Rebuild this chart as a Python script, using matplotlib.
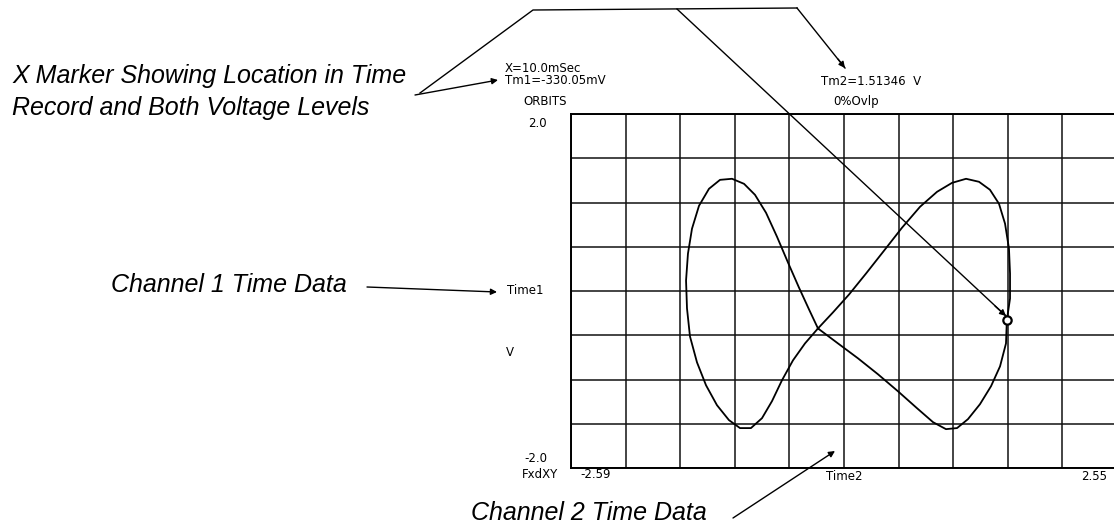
import matplotlib
matplotlib.use('Agg')
import matplotlib.pyplot as plt
from matplotlib.lines import Line2D
import numpy as np

# screen scale of the analyzer display
x_range = [-2.59, 2.55]
y_range = [-2.0, 2.0]
n_xdiv = 10
n_ydiv = 8

# orbit trace: Time2 (x) against Time1 (y), volts
orbit_x = [-0.265, -0.124, 0.027, 0.187, 0.357, 0.526, 0.696, 0.856, 0.997, 1.129,
           1.251, 1.354, 1.439, 1.496, 1.533, 1.543, 1.543, 1.513, 1.505, 1.449,
           1.364, 1.260, 1.147, 1.044, 0.940, 0.818, 0.667, 0.488, 0.300, 0.112,
           -0.077, -0.265,
           -0.387, -0.500, -0.604, -0.698, -0.792, -0.896, -0.999, -1.103, -1.216, -1.319,
           -1.404, -1.470, -1.498, -1.507, -1.489, -1.451, -1.385, -1.291, -1.187, -1.074,
           -0.961, -0.858, -0.754, -0.651, -0.547, -0.444, -0.349, -0.265]
orbit_y = [-0.423, -0.242, -0.040, 0.197, 0.456, 0.715, 0.952, 1.121, 1.222, 1.268,
           1.234, 1.144, 0.986, 0.761, 0.479, 0.197, -0.085, -0.330, -0.592, -0.851,
           -1.076, -1.279, -1.448, -1.549, -1.561, -1.482, -1.324, -1.133, -0.941, -0.761,
           -0.592, -0.423,
           -0.592, -0.783, -1.009, -1.245, -1.437, -1.549, -1.549, -1.459, -1.290, -1.065,
           -0.806, -0.513, -0.197, 0.118, 0.422, 0.704, 0.963, 1.155, 1.256, 1.268,
           1.211, 1.087, 0.884, 0.614, 0.321, 0.039, -0.209, -0.423]

# X marker readout
marker_x = 1.51346
marker_y = -0.33005

W, H = 1114, 529


def fx(px):
    return px / W


def fy(py):
    # pixel rows counted from the top
    return 1 - py / H


def fp(px, py):
    return (px, H - py)


fig = plt.figure(figsize=(W / 100, H / 100), dpi=100)
fig.patch.set_facecolor('white')

ax = fig.add_axes([571 / W, 61 / H, 546 / W, 354 / H])
ax.plot(orbit_x, orbit_y, color='k', lw=1.3)
ax.plot([marker_x], [marker_y], 'o', mfc='white', mec='k', ms=6, mew=1.6)
ax.set_xlim(x_range)
ax.set_ylim(y_range)
ax.set_xticks(np.linspace(x_range[0], x_range[1], n_xdiv + 1))
ax.set_yticks(np.linspace(y_range[0], y_range[1], n_ydiv + 1))
ax.tick_params(length=0, labelbottom=False, labelleft=False)
ax.grid(True, color='#111111', lw=1.1)
for s in ax.spines.values():
    s.set_linewidth(1.4)

# screen readouts (plotter font)
mono = dict(family='DejaVu Sans', size=8.5, color='k')
fig.text(fx(505), fy(72), "X=10.0mSec", va='baseline', **mono)
fig.text(fx(505), fy(84), "Tm1=-330.05mV", va='baseline', **mono)
fig.text(fx(523), fy(105), "ORBITS", va='baseline', **mono)
fig.text(fx(821), fy(85), "Tm2=1.51346  V", va='baseline', **mono)
fig.text(fx(833), fy(105), "0%Ovlp", va='baseline', **mono)
fig.text(fx(547), fy(127), "%.1f" % y_range[1], ha='right', va='baseline', **mono)
fig.text(fx(547), fy(462), "%.1f" % y_range[0], ha='right', va='baseline', **mono)
fig.text(fx(507), fy(290), "Time1", va='center', **mono)
fig.text(fx(506), fy(352), "V", va='center', **mono)
fig.text(fx(558), fy(478), "FxdXY", ha='right', va='baseline', **mono)
fig.text(fx(580), fy(478), "%.2f" % x_range[0], va='baseline', **mono)
fig.text(fx(826), fy(480), "Time2", va='baseline', **mono)
fig.text(fx(1107), fy(480), "%.2f" % x_range[1], ha='right', va='baseline', **mono)

# callouts
ital = dict(family='Liberation Sans', style='italic', size=18, color='k')
fig.text(fx(12), fy(83), "X Marker Showing Location in Time", va='baseline', **ital)
fig.text(fx(12), fy(115), "Record and Both Voltage Levels", va='baseline', **ital)
fig.text(fx(347), fy(285), "Channel 1 Time Data", ha='right', va='center', **ital)
fig.text(fx(707), fy(513), "Channel 2 Time Data", ha='right', va='center', **ital)

arrow = dict(arrowstyle='-|>', color='k', lw=1.0, mutation_scale=9,
             shrinkA=0, shrinkB=0)
fig.add_artist(Line2D([fx(420), fx(533), fx(797)], [fy(93), fy(10), fy(8)],
                      color='k', lw=1.0))
fig.add_artist(Line2D([fx(677), fx(1006)], [fy(9), fy(316)], color='k', lw=1.0))
fig.add_artist(Line2D([fx(797), fx(845)], [fy(8), fy(68)], color='k', lw=1.0))
ax.annotate("", xy=fp(1006, 316), xytext=fp(995, 306), xycoords='figure pixels',
            textcoords='figure pixels', arrowprops=arrow)
ax.annotate("", xy=fp(845, 68), xytext=fp(838, 59), xycoords='figure pixels',
            textcoords='figure pixels', arrowprops=arrow)
ax.annotate("", xy=fp(498, 80), xytext=fp(415, 95), xycoords='figure pixels',
            textcoords='figure pixels', arrowprops=arrow)
ax.annotate("", xy=fp(497, 292), xytext=fp(367, 287), xycoords='figure pixels',
            textcoords='figure pixels', arrowprops=arrow)
ax.annotate("", xy=fp(835, 451), xytext=fp(733, 518), xycoords='figure pixels',
            textcoords='figure pixels', arrowprops=arrow)

fig.savefig("out.png", dpi=100, facecolor='white')
